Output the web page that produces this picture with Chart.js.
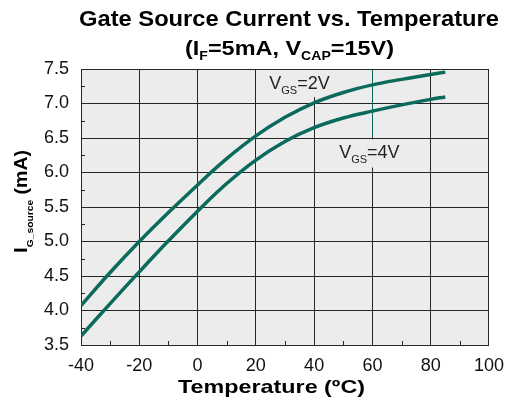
<!DOCTYPE html>
<html><head><meta charset="utf-8">
<script src="https://cdn.jsdelivr.net/npm/chart.js@4"></script>
<style>html,body{margin:0;padding:0;background:#fff}#wrap{width:514px;height:402px}</style>
</head><body><div id="wrap"><canvas id="c" width="514" height="402"></canvas></div>
<script>
const temps = [-40,-30,-20,-10,0,10,20,30,40,50,60,70,80,85];
const vgs2V = [4.07,4.55,5.00,5.42,5.82,6.20,6.53,6.80,7.01,7.16,7.27,7.35,7.42,7.455];
const vgs4V = [3.63,4.10,4.56,5.01,5.44,5.84,6.18,6.45,6.65,6.79,6.89,6.98,7.06,7.095];
const xTicks = [-40,-20,0,20,40,60,80,100];
const yTicks = [3.5,4.0,4.5,5.0,5.5,6.0,6.5,7.0,7.5];
const seriesNames = ['VGS=2V','VGS=4V'];

const FONT = '"Liberation Sans", Arial, Helvetica, sans-serif';
const TEAL = '#0a6a5c';
const GRID = '#262626';
const BG = '#ececec';

function drawSubText(ctx, parts, x, y, align, targetW) {
  // parts: [text, size, bold, dy]
  let total = 0;
  parts.forEach(p => { ctx.font = (p[2]?'bold ':'') + p[1] + 'px ' + FONT; total += ctx.measureText(p[0]).width; });
  const sx = targetW ? targetW / total : 1;
  ctx.save();
  ctx.translate(x, y);
  ctx.scale(sx, 1);
  let cx = align === 'center' ? -total/2 : 0;
  ctx.textAlign = 'left';
  ctx.textBaseline = 'alphabetic';
  parts.forEach(p => { ctx.font = (p[2]?'bold ':'') + p[1] + 'px ' + FONT; ctx.fillText(p[0], cx, (p[3]||0)); cx += ctx.measureText(p[0]).width; });
  ctx.restore();
}

const deco = {
  id: 'deco',
  beforeDraw(chart) {
    const {ctx, chartArea: a} = chart;
    ctx.save();
    ctx.fillStyle = BG;
    ctx.fillRect(a.left, a.top, a.right - a.left, a.bottom - a.top);
    ctx.restore();
  },
  beforeDatasetsDraw(chart) {
    const {ctx, chartArea: a, scales: {x, y}} = chart;
    ctx.save();
    // minor ticks
    ctx.strokeStyle = GRID; ctx.lineWidth = 1;
    ctx.beginPath();
    for (let v = -30; v < 100; v += 20) { const px = Math.round(x.getPixelForValue(v)) + 0.5; ctx.moveTo(px, a.bottom); ctx.lineTo(px, a.bottom - 4); }
    for (let v = 3.75; v < 7.5; v += 0.5) { const py = Math.round(y.getPixelForValue(v)) + 0.5; ctx.moveTo(a.left, py); ctx.lineTo(a.left + 4, py); }
    ctx.stroke();
    // label backgrounds covering grid
    ctx.fillStyle = BG;
    ctx.fillRect(x.getPixelForValue(24), a.top + 1, 66, 27);
    ctx.fillRect(x.getPixelForValue(48), y.getPixelForValue(6.5) + 1.5, 66, 28);
    // teal segment on 60 gridline
    ctx.strokeStyle = TEAL; ctx.lineWidth = 1;
    const p60 = Math.round(x.getPixelForValue(60)) + 0.5;
    ctx.beginPath(); ctx.moveTo(p60, a.top + 1); ctx.lineTo(p60, y.getPixelForValue(6.5) - 1); ctx.stroke();
    ctx.restore();
  },
  afterDatasetsDraw(chart) {
    const {ctx, scales: {x, y}} = chart;
    ctx.save();
    ctx.fillStyle = '#222';
    drawSubText(ctx, [['V',18,false],['GS',11,false,5],['=2V',18,false]], x.getPixelForValue(24.6), y.getPixelForValue(7.21), 'left');
    drawSubText(ctx, [['V',18,false],['GS',11,false,5],['=4V',18,false]], x.getPixelForValue(48.6), y.getPixelForValue(6.21), 'left');
    ctx.restore();
  },
  afterDraw(chart) {
    const {ctx} = chart;
    ctx.save();
    ctx.fillStyle = '#000';
    drawSubText(ctx, [['Gate Source Current vs. Temperature',22,true]], 289, 26, 'center', 420);
    drawSubText(ctx, [['(I',20,true],['F',12,true,5],['=5mA, V',20,true],['CAP',12,true,5],['=15V)',20,true]], 289.5, 55, 'center', 209);
    drawSubText(ctx, [['Temperature (ºC)',18.5,true]], 271.5, 393, 'center', 187);
    ctx.translate(27, 201.5);
    ctx.rotate(-Math.PI/2);
    drawSubText(ctx, [['I',19,true],['G_source',9.5,true,6],[' (mA)',18,true]], 0, 0, 'center', 103);
    ctx.restore();
  }
};

new Chart(document.getElementById('c'), {
  type: 'line',
  data: {
    datasets: [
      { label: seriesNames[0], data: temps.map((t,i)=>({x:t,y:vgs2V[i]})), borderColor: TEAL, borderWidth: 3.5, pointRadius: 0, tension: 0.4, fill: false },
      { label: seriesNames[1], data: temps.map((t,i)=>({x:t,y:vgs4V[i]})), borderColor: TEAL, borderWidth: 3.5, pointRadius: 0, tension: 0.4, fill: false }
    ]
  },
  options: {
    responsive: false,
    animation: false,
    events: [],
    layout: { padding: { top: 69, right: 19, left: 0, bottom: 0 } },
    plugins: { legend: { display: false }, tooltip: { enabled: false }, title: { display: false } },
    scales: {
      x: {
        type: 'linear', min: -40, max: 100,
        afterBuildTicks(s){ s.ticks = xTicks.map(v=>({value:v})); },
        afterFit(s){ s.height = 57; },
        grid: { color: GRID, lineWidth: 1, drawTicks: false },
        border: { color: GRID, width: 1 },
        ticks: { color: '#111', font: { family: FONT, size: 18 }, padding: 10, maxRotation: 0 }
      },
      y: {
        type: 'linear', min: 3.5, max: 7.5,
        afterBuildTicks(s){ s.ticks = yTicks.map(v=>({value:v})); },
        afterFit(s){ s.width = 81; },
        grid: { color: GRID, lineWidth: 1, drawTicks: false },
        border: { color: GRID, width: 1 },
        ticks: { color: '#111', font: { family: FONT, size: 18 }, padding: 12, callback: v => v.toFixed(1) }
      }
    }
  },
  plugins: [deco]
});
</script></body></html>
